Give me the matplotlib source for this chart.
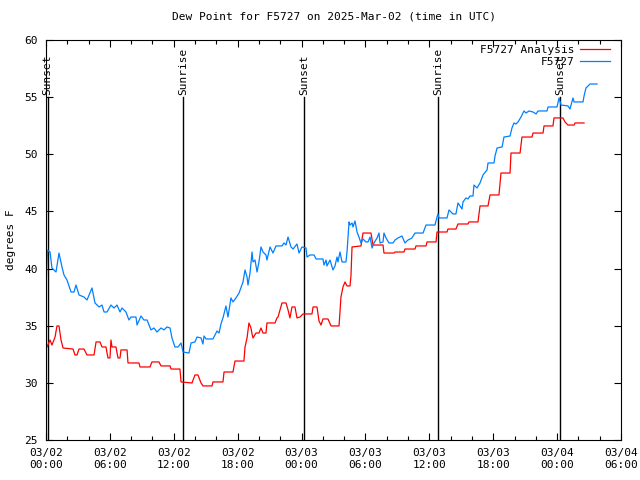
import numpy as np
import matplotlib
matplotlib.use("Agg")
import matplotlib.pyplot as plt
from matplotlib.ticker import MultipleLocator

# hours since 2025-03-02 00:00 UTC, dew point in degrees F
obs_hours = [0.0, 0.15, 0.38, 0.56, 0.94, 1.22, 1.50, 1.69, 1.97, 2.35, 2.63, 2.82, 3.10, 3.57, 3.85,
             4.32, 4.60, 4.98, 5.26, 5.45, 5.73, 6.10, 6.39, 6.67, 6.95, 7.14, 7.51, 7.79, 7.98, 8.45,
             8.55, 8.92, 9.20, 9.49, 9.86, 10.14, 10.42, 10.80, 11.08, 11.36, 11.65, 11.83, 12.11, 12.40,
             12.68, 12.87, 13.43, 13.62, 13.99, 14.18, 14.56, 14.74, 14.84, 15.03, 15.68, 15.97, 16.06,
             16.25, 16.43, 16.62, 16.90, 17.09, 17.37, 17.56, 17.84, 18.13, 18.50, 18.69, 18.88, 18.97,
             19.16, 19.35, 19.44, 19.63, 19.82, 20.00, 20.19, 20.38, 20.66, 20.75, 21.04, 21.32, 21.60,
             22.16, 22.35, 22.54, 22.73, 23.01, 23.20, 23.57, 23.76, 24.04, 24.42, 24.51, 24.79, 25.17,
             25.36, 26.01, 26.11, 26.30, 26.39, 26.67, 26.95, 27.14, 27.33, 27.42, 27.61, 27.80, 28.17,
             28.27, 28.46, 28.55, 28.74, 28.83, 29.02, 29.21, 29.39, 29.58, 29.77, 30.05, 30.24, 30.43,
             30.62, 30.80, 31.09, 31.27, 31.37, 31.65, 31.74, 31.93, 32.21, 32.59, 32.78, 33.06, 33.43,
             33.71, 34.00, 34.37, 34.65, 35.41, 35.69, 36.53, 36.72, 36.81, 36.90, 37.66, 37.85, 38.22,
             38.50, 38.69, 39.07, 39.16, 39.44, 39.63, 39.82, 40.10, 40.19, 40.48, 40.76, 41.04, 41.42,
             41.51, 42.07, 42.17, 42.36, 42.83, 43.01, 43.58, 43.76, 43.95, 44.14, 44.33, 44.61, 44.89,
             45.08, 45.36, 45.74, 46.02, 46.21, 47.05, 47.15, 47.99, 48.18, 48.37, 49.02, 49.21, 49.49,
             49.59, 50.43, 50.53, 50.71, 51.09, 51.75]
obs_dewpt = [38.5, 41.6, 41.45, 40.05, 39.7, 41.36, 40.14, 39.44, 39.0, 37.95, 37.95, 38.56, 37.69, 37.51, 37.25,
             38.3, 36.99, 36.64, 36.81, 36.2, 36.2, 36.81, 36.55, 36.81, 36.2, 36.55, 36.2, 35.5, 35.76, 35.76,
             35.06, 35.85, 35.5, 35.5, 34.63, 34.8, 34.45, 34.8, 34.63, 34.89, 34.8, 33.93, 33.14, 33.14,
             33.49, 32.7, 32.61, 33.49, 33.58, 34.01, 33.93, 33.4, 34.1, 33.84, 33.84, 34.36, 34.54,
             34.36, 35.15, 35.68, 36.73, 35.76, 37.43, 37.08, 37.43, 37.86, 38.83, 39.88, 39.26, 38.56,
             39.61, 41.45, 40.58, 40.75, 39.7, 40.58, 41.89, 41.45, 41.19, 40.75, 41.89, 41.36, 41.98,
             41.98, 42.24, 42.06, 42.76, 41.89, 41.71, 42.15, 41.36, 41.89, 41.8, 41.01, 41.19, 41.19,
             40.84, 40.84, 40.31, 40.75, 40.23, 40.75, 39.88, 40.23, 41.01, 40.58, 41.45, 40.58, 40.58,
             41.45, 44.08, 43.81, 43.99, 43.64, 44.16, 43.2, 42.76, 42.24, 42.59, 42.33, 42.33, 42.76,
             41.8, 42.24, 42.68, 43.11, 42.24, 42.33, 43.11, 42.68, 42.24, 42.24, 42.5, 42.68, 42.85,
             42.24, 42.5, 42.68, 43.11, 43.11, 43.81, 43.81, 44.51, 44.78, 44.43, 44.43, 45.13, 44.78,
             44.78, 45.74, 45.21, 45.83, 46.18, 46.09, 46.35, 46.35, 47.31, 47.05, 47.49, 48.19, 48.63,
             49.24, 49.24, 49.85, 50.55, 50.64, 51.51, 51.6, 52.3, 52.74, 52.65, 52.83, 53.26, 53.79,
             53.61, 53.79, 53.7, 53.53, 53.79, 53.79, 54.14, 54.14, 54.93, 54.31, 54.23, 53.96, 54.93,
             54.58, 54.58, 55.1, 55.8, 56.15, 56.15]

ana_hours = [0.09, 0.38, 0.56, 0.85, 1.03, 1.22, 1.41, 1.60, 2.54, 2.72, 2.91, 3.10, 3.57, 3.85, 4.51,
             4.70, 5.07, 5.26, 5.63, 5.82, 6.01, 6.10, 6.20, 6.57, 6.76, 6.95, 7.04, 7.61, 7.70, 8.73,
             8.83, 9.77, 9.95, 10.61, 10.80, 11.65, 11.74, 12.58, 12.68, 13.71, 13.99, 14.27, 14.56,
             14.74, 15.59, 15.68, 16.62, 16.72, 17.56, 17.75, 18.59, 18.69, 18.88, 19.06, 19.25, 19.35,
             19.44, 19.72, 20.00, 20.19, 20.38, 20.66, 20.75, 21.51, 21.69, 21.79, 22.16, 22.54, 22.73,
             22.91, 23.10, 23.38, 23.57, 23.85, 24.14, 24.98, 25.08, 25.45, 25.64, 25.83, 26.01, 26.48,
             26.77, 27.52, 27.70, 27.89, 28.08, 28.27, 28.55, 28.64, 28.74, 29.58, 29.77, 30.52, 30.71,
             31.65, 31.74, 32.68, 32.78, 33.62, 33.71, 34.65, 34.75, 35.69, 35.78, 36.63, 36.72, 37.66,
             37.75, 38.50, 38.69, 39.63, 39.72, 40.57, 40.76, 41.51, 41.70, 42.54, 42.73, 43.58, 43.67,
             44.52, 44.70, 45.64, 45.74, 46.68, 46.77, 47.61, 47.71, 48.55, 48.74, 49.02, 49.59, 49.68,
             50.53]
ana_dewpt = [33.14, 33.75, 33.31, 34.01, 34.98, 34.98, 33.75, 33.05, 32.96, 32.44, 32.44, 32.96, 32.96, 32.44, 32.44,
             33.58, 33.58, 33.14, 33.14, 32.18, 32.18, 33.75, 33.14, 33.14, 32.18, 32.18, 32.88, 32.88, 31.74, 31.74,
             31.39, 31.39, 31.83, 31.83, 31.48, 31.48, 31.21, 31.21, 30.08, 29.99, 30.69, 30.69, 29.99,
             29.73, 29.73, 30.08, 30.08, 30.95, 30.95, 31.91, 31.91, 33.14, 33.93, 35.24, 34.8, 34.28,
             33.93, 34.36, 34.36, 34.8, 34.36, 34.36, 35.24, 35.24, 35.68, 35.76, 36.99, 36.99, 36.38,
             35.68, 36.64, 36.64, 35.68, 35.76, 36.03, 36.03, 36.64, 36.64, 35.41, 35.06, 35.59, 35.59,
             34.98, 34.98, 37.51, 38.39, 38.83, 38.48, 38.48, 39.35, 41.89, 41.98, 43.11, 43.11, 42.06,
             42.06, 41.36, 41.36, 41.45, 41.45, 41.71, 41.71, 41.98, 41.98, 42.33, 42.33, 43.2, 43.2,
             43.46, 43.46, 43.9, 43.9, 44.08, 44.08, 45.48, 45.48, 46.44, 46.44, 48.36, 48.36, 50.11,
             50.11, 51.51, 51.51, 51.86, 51.86, 52.48, 52.48, 53.18, 53.18, 52.83, 52.56, 52.56, 52.74,
             52.74]

sun_hours = [0.15, 12.87, 24.23, 36.81, 48.27]
sun_labels = ['Sunset', 'Sunrise', 'Sunset', 'Sunrise', 'Sunset']

tick_hours = list(range(0, 55, 6))
tick_labels = ['03/02\n00:00', '03/02\n06:00', '03/02\n12:00', '03/02\n18:00', '03/03\n00:00',
               '03/03\n06:00', '03/03\n12:00', '03/03\n18:00', '03/04\n00:00', '03/04\n06:00']

plt.rcParams['font.family'] = 'DejaVu Sans Mono'
plt.rcParams['font.size'] = 8

fig = plt.figure(figsize=(6.4, 4.8), dpi=100)
ax = fig.add_axes([46/640, 40/480, 575/640, 400/480])

for h, lab in zip(sun_hours, sun_labels):
    ax.plot([h, h], [25, 55], color='black', lw=1.0)
    ax.text(h, 55.2, lab, rotation=90, ha='center', va='bottom', fontsize=8)

ax.plot(ana_hours, ana_dewpt, color='#ff0000', lw=0.9, label='F5727 Analysis')
ax.plot(obs_hours, obs_dewpt, color='#0080ff', lw=0.9, label='F5727')

ax.set_xlim(0, 54)
ax.set_ylim(25, 60)
ax.set_xticks(tick_hours)
ax.set_xticklabels(tick_labels)
ax.xaxis.set_minor_locator(MultipleLocator(2))
ax.set_yticks(range(25, 61, 5))
ax.tick_params(which='both', direction='in', top=True, right=True)
ax.tick_params(which='major', length=5, width=0.8, pad=6)
ax.tick_params(which='minor', length=3, width=0.8)
for s in ax.spines.values():
    s.set_linewidth(0.8)

ax.set_title('Dew Point for F5727 on 2025-Mar-02 (time in UTC)', fontsize=8, pad=15)
ax.set_ylabel('degrees F', fontsize=8, labelpad=6)

ax.legend(loc='upper right', bbox_to_anchor=(0.988, 0.998), frameon=False, markerfirst=False,
          handlelength=2.7, borderaxespad=0, labelspacing=0.18, handletextpad=0.45)

fig.savefig('out.png', dpi=100)
